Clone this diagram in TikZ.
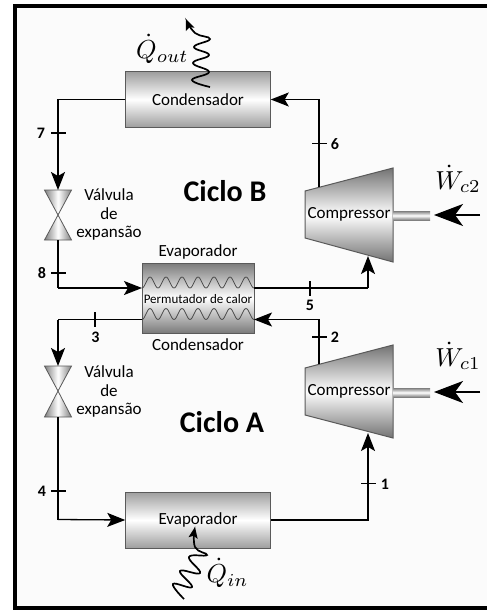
\documentclass[tikz,border=0pt]{standalone}
\usepackage{fontspec}
\setmainfont{Carlito}
\usetikzlibrary{arrows.meta,calc}
\definecolor{paper}{HTML}{FBFBFB}
\definecolor{edge}{HTML}{5A5A5A}
\tikzset{
 flow/.style={line width=1.3pt,black},
 flowarrow/.style={flow,-{Stealth[length=18pt,width=14pt,inset=4pt]}},
 workarrow/.style={line width=1.8pt,-{Stealth[length=29pt,width=22pt,inset=8pt]}},
 heat/.style={line width=1.7pt,black,-{Stealth[length=11pt,width=9pt,inset=2pt]}},
 tick/.style={line width=1.1pt,black},
 unit/.style={draw=edge,line width=1pt,top color=black!38,bottom color=black!38,middle color=white,inner sep=0pt,font=\fontsize{17}{17}\selectfont},
 hx/.style={draw=edge,line width=1pt,top color=black!52,bottom color=black!52,middle color=white,inner sep=0pt},
 valve/.style={draw=edge,line width=.8pt,left color=black!50,right color=black!50,middle color=white},
 comp/.style={draw=edge,line width=1pt,top color=black!55,bottom color=black!55,middle color=white},
 shaft/.style={top color=black!50,bottom color=black!50,middle color=white},
 lbl/.style={font=\fontsize{17}{17}\selectfont,inner sep=0pt},
 num/.style={font=\bfseries\fontsize{16}{16}\selectfont,inner sep=0pt},
 title/.style={font=\bfseries\fontsize{30}{30}\selectfont,inner sep=0pt},
 mathlbl/.style={scale=2.6,inner sep=0pt},
 wave/.style={line width=.8pt,black!70},
}
\begin{document}
\begin{tikzpicture}[x=1pt,y=-1pt]
\useasboundingbox (0,0) rectangle (487,610);
\fill[paper] (15,6) rectangle (487,608);
\fill[black] (13,4) rectangle (487,8);
\fill[black] (13,4) rectangle (17,610);
\fill[black] (13,606) rectangle (487,610);

% units
\node[unit,minimum width=144.5pt,minimum height=55.5pt] (condB) at (198,99.5) {Condensador};
\node[unit,minimum width=144.5pt,minimum height=56pt] (evapA) at (198,520) {Evaporador};
\node[hx,minimum width=112pt,minimum height=70pt] (hx) at (198,298) {};
\foreach \yy in {282.5,314} \draw[wave] plot[domain=142:254,samples=113,smooth] (\x,{\yy+5.5*cos(22.5*(\x-142))});
\node[inner sep=0pt,font=\fontsize{13}{13}\selectfont] (hxt) at (198,299) {Permutador de calor};
\node[lbl] (hxe) at (198,252) {Evaporador};
\node[lbl] (hxc) at (198,345) {Condensador};

% valves
\coordinate (vBt) at (58,190); \coordinate (vBc) at (58,215); \coordinate (vBb) at (58,240);
\coordinate (vAt) at (58,366); \coordinate (vAc) at (58,391); \coordinate (vAb) at (58,417);
\foreach \n in {vB,vA}{
 \draw[valve] ($(\n t)+(-13.5,0)$) -- ($(\n t)+(13.5,0)$) -- (\n c) -- cycle;
 \draw[valve] ($(\n b)+(-13.5,0)$) -- ($(\n b)+(13.5,0)$) -- (\n c) -- cycle;
}
\node[lbl,align=center] (vBl1) at (109,195) {Válvula};
\node[lbl] (vBl2) at (109,214) {de};
\node[lbl] (vBl3) at (109,233) {expansão};
\node[lbl] (vAl1) at (109,372) {Válvula};
\node[lbl] (vAl2) at (109,391) {de};
\node[lbl] (vAl3) at (109,410) {expansão};

% compressors
\draw[comp] (305,191) coordinate (cBa) -- (393,168) -- (393,262) -- (305,238) -- cycle;
\fill[shaft] (393.5,211) rectangle (430,220);
\node[lbl,inner sep=0pt] (cB) at (349,214) {Compressor};
\draw[comp] (305,368) coordinate (cAa) -- (393,345) -- (393,438) -- (305,415) -- cycle;
\fill[shaft] (393.5,388) rectangle (430,397);
\node[lbl,inner sep=0pt] (cA) at (349,391) {Compressor};

% connectors
\coordinate (c6) at (319,187); \coordinate (c2) at (319,364);
\coordinate (c5) at (368,256); \coordinate (c1) at (368,433);
\draw[flowarrow] (c6) |- (condB.east);
\draw[flow] (condB.west) -| (58,150);
\draw[flowarrow] (58,150) -- (vBt);
\draw[flow] (vBb) -- (58,288);
\draw[flowarrow] (58,288) -- (142,288);
\draw[flow] (254,288) -- (368,288);
\draw[flowarrow] (368,288) -- (c5);
\draw[flowarrow] (c2) |- (254,319.5);
\draw[flow] (142,319.5) -- (58,319.5);
\draw[flowarrow] (58,319.5) -- (vAt);
\draw[flow] (vAb) -- (58,519.5);
\draw[flowarrow] (58,519.5) -- (evapA.west);
\draw[flow] (evapA.east) -| (368,500);
\draw[flowarrow] (368,500) -- (c1);

% ticks
\draw[tick] (51,133)--(66,133); \node[num] (n7) at (41,133.5) {7};
\draw[tick] (51,273)--(66,273); \node[num] (n8) at (42,273.5) {8};
\draw[tick] (95,312)--(95,327); \node[num] (n3) at (95.5,337) {3};
\draw[tick] (51,491)--(66,491); \node[num] (n4) at (42,491) {4};
\draw[tick] (312,143.5)--(327,143.5); \node[num] (n6) at (335,144) {6};
\draw[tick] (310,281)--(310,296); \node[num] (n5) at (310,305) {5};
\draw[tick] (312,337)--(327,337); \node[num] (n2) at (335,337) {2};
\draw[tick] (361,483.5)--(376,483.5); \node[num] (n1) at (385,484) {1};

% titles
\node[title] (tB) at (225,191) {Ciclo B};
\node[title] (tA) at (222,422) {Ciclo A};

% work
\coordinate (wB) at (480,215); \coordinate (wBe) at (434,215);
\coordinate (wA) at (480,392); \coordinate (wAe) at (434,392);
\draw[workarrow] (wB) -- (wBe);
\draw[workarrow] (wA) -- (wAe);
\node[mathlbl] (Wb) at (458,179) {$\dot W_{c2}$};
\node[mathlbl] (Wa) at (458,356) {$\dot W_{c1}$};

% heat
\draw[heat] plot[smooth,tension=.75] coordinates {(210,87) (192,80) (209,72) (193,63) (209,55) (194,47) (210,39) (195,33) (186,19)};
\draw[heat] plot[smooth,tension=.75] coordinates {(184,599) (173,584) (192,587) (180,571) (200,573) (189,557) (207,555) (195,547) (195,527)};
\node[mathlbl,anchor=east] (Qo) at (189,49) {$\dot Q_{out}$};
\node[mathlbl,anchor=west] (Qi) at (206,573) {$\dot Q_{in}$};
\end{tikzpicture}
\end{document}
